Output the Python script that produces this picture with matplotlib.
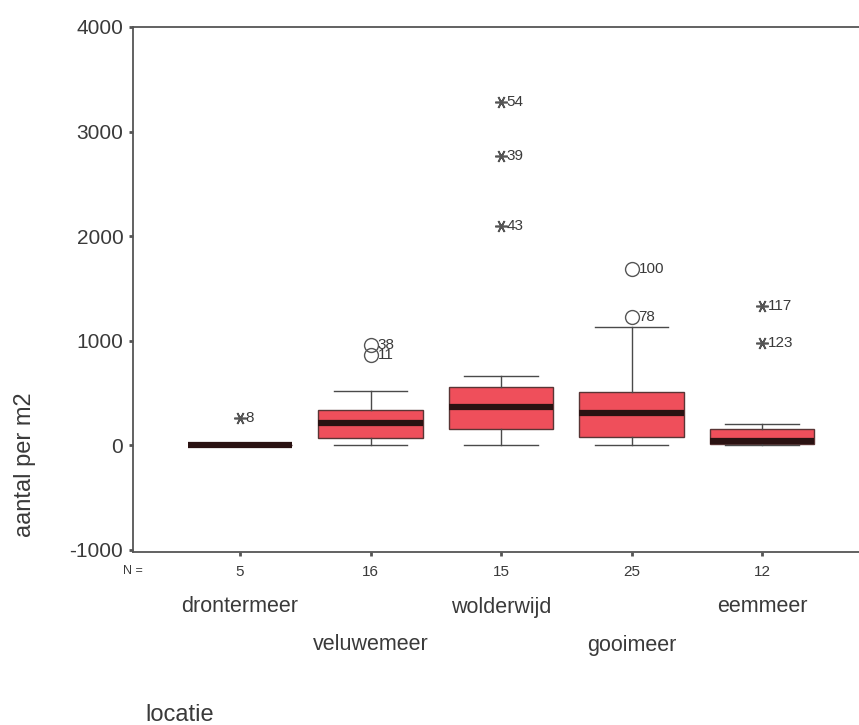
import matplotlib
matplotlib.use("Agg")
import matplotlib.pyplot as plt
import matplotlib.transforms as mtransforms

plt.rcParams["font.family"] = ["Liberation Sans", "DejaVu Sans"]

# data
locaties = ["drontermeer", "veluwemeer", "wolderwijd", "gooimeer", "eemmeer"]
n_obs = [5, 16, 15, 25, 12]
q1 = [0, 70, 160, 80, 8]
median = [0, 215, 370, 305, 45]
q3 = [0, 335, 555, 510, 160]
whisker_lo = [0, 0, 0, 0, 0]
whisker_hi = [0, 520, 665, 1135, 205]

out_group = [0, 1, 1, 2, 2, 2, 3, 3, 4, 4]
out_value = [260, 955, 865, 3280, 2770, 2095, 1685, 1225, 1335, 980]
out_id = ["8", "38", "11", "54", "39", "43", "100", "78", "117", "123"]
out_kind = ["*", "o", "o", "*", "*", "*", "o", "o", "*", "*"]

txt = "#3a3a3a"
axc = "#555555"
red = "#ef4f5b"

fig = plt.figure(figsize=(8.59, 7.25), dpi=100)
ax = fig.add_axes([133 / 859, 1 - 552 / 725, 1 - 133 / 859, (552 - 27) / 725])

pos = list(range(1, len(locaties) + 1))
stats = []
for i in range(len(locaties)):
    stats.append(dict(med=median[i], q1=q1[i], q3=q3[i],
                      whislo=whisker_lo[i], whishi=whisker_hi[i], fliers=[]))

ax.bxp(stats, positions=pos, widths=0.8, patch_artist=True, showfliers=False,
       capwidths=0.56, manage_ticks=False,
       boxprops=dict(facecolor=red, edgecolor="#5a3535", linewidth=1.0),
       medianprops=dict(color="#2a1212", linewidth=4.5),
       whiskerprops=dict(color="#4a4a4a", linewidth=1.0),
       capprops=dict(color="#4a4a4a", linewidth=1.0))

for g, v, lab, k in zip(out_group, out_value, out_id, out_kind):
    x = pos[g]
    if k == "o":
        ax.plot(x, v, marker="o", ms=10, mfc="none", mec="#555555", mew=1.0)
        dx = 5
    else:
        ax.plot(x, v, marker=(6, 2, 90), ms=9, color="#555555", mew=1.2)
        dx = 4
    ax.annotate(lab, (x, v), xytext=(dx, 0), textcoords="offset points",
                ha="left", va="center", fontsize=11, color=txt)

ax.set_xlim(0.18, 5.743)
ax.set_ylim(-1020, 4000)
ax.set_yticks([-1000, 0, 1000, 2000, 3000, 4000])
ax.set_yticklabels(["-1000", "0", "1000", "2000", "3000", "4000"],
                   fontsize=15, color=txt)
ax.set_xticks(pos)
ax.set_xticklabels([str(v) for v in n_obs], fontsize=11, color=txt,
                   family=["Liberation Sans Narrow", "Liberation Sans"])
ax.tick_params(axis="both", direction="out", length=3, width=2, color=axc)
ax.tick_params(axis="x", pad=6)
ax.tick_params(axis="y", pad=4)

for s in ["left", "bottom", "top"]:
    ax.spines[s].set_color(axc)
    ax.spines[s].set_linewidth(1.3)
ax.spines["right"].set_visible(False)

fig.text(133 / 859, 1 - 571 / 725, "N =", fontsize=9, color=txt,
         ha="center", va="center")

trans = mtransforms.blended_transform_factory(ax.transData, fig.transFigure)
for i, name in enumerate(locaties):
    yy = 1 - 607 / 725 if i % 2 == 0 else 1 - 645 / 725
    ax.text(pos[i], yy, name, transform=trans, ha="center", va="center",
            fontsize=15.5, color=txt,
            family=["Liberation Sans Narrow", "Liberation Sans"])

fig.text(25 / 859, 1 - 465 / 725, "aantal per m2", rotation=90,
         ha="center", va="center", fontsize=17, color=txt)
fig.text(145 / 859, 1 - 715 / 725, "locatie", ha="left", va="center",
         fontsize=17, color=txt)

fig.savefig("out.png", dpi=100)
